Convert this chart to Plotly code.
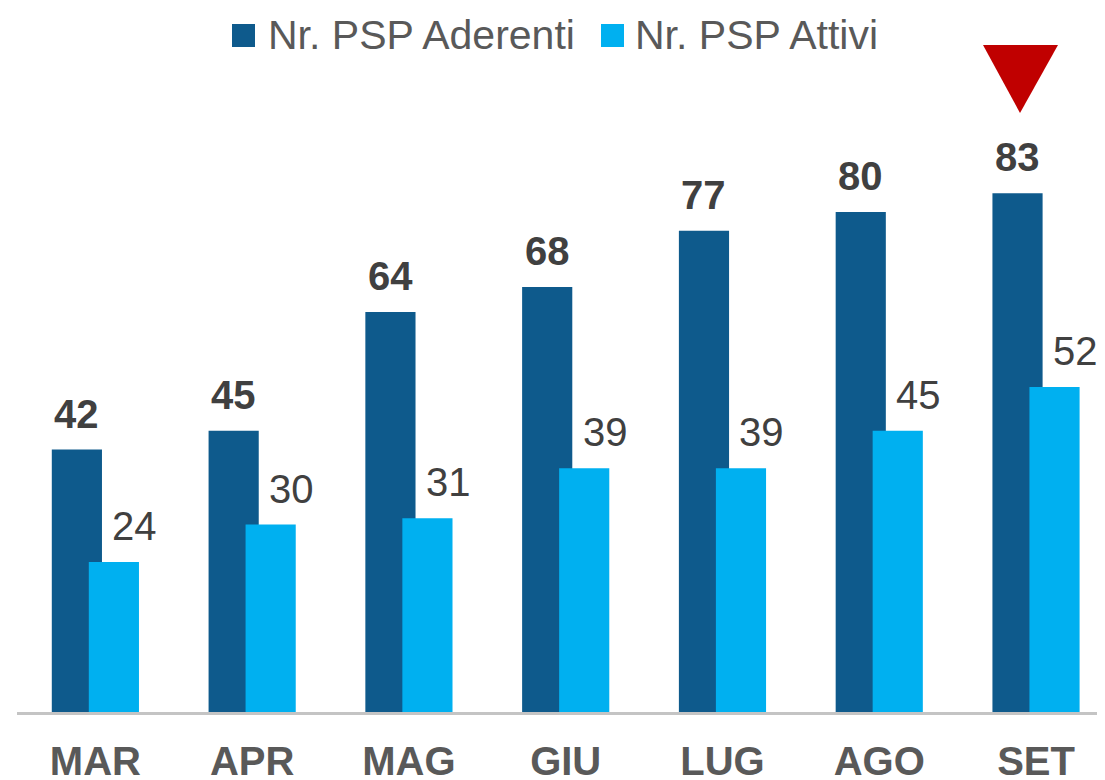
import plotly.graph_objects as go

months = ["MAR", "APR", "MAG", "GIU", "LUG", "AGO", "SET"]
aderenti = [42, 45, 64, 68, 77, 80, 83]
attivi = [24, 30, 31, 39, 39, 45, 52]
series_names = ["Nr. PSP Aderenti", "Nr. PSP Attivi"]

DARK = "#0E5A8C"
LIGHT = "#00B0F0"
FONT = "Liberation Sans, Arial, sans-serif"

# target window geometry (page body has an 8px margin)
OFF = 8
WIN_W, WIN_H = 1105, 780
PLOT_L, PLOT_R, PLOT_T, PLOT_B = 17, 1105, 100, 712

W, H = WIN_W - OFF, WIN_H - OFF
ML = PLOT_L - OFF
MR = W - (PLOT_R - OFF)
MT = PLOT_T - OFF
MB = H - (PLOT_B - OFF)

px_per_unit = 6.25
plot_h = PLOT_B - PLOT_T
plot_w = PLOT_R - PLOT_L
ymax = plot_h / px_per_unit
xr = [-0.5, 6.44]
unit_px = plot_w / (xr[1] - xr[0])

bw = 0.32
dark_c = -0.118
light_c = 0.118


def pxx(px):
    return (px - PLOT_L) / plot_w


def pxy(py):
    return (PLOT_B - py) / plot_h


fig = go.Figure()
fig.add_trace(go.Bar(x=months, y=aderenti, name=series_names[0], marker_color=DARK,
                     marker_line_width=0, width=bw, offset=dark_c - bw / 2))
fig.add_trace(go.Bar(x=months, y=attivi, name=series_names[1], marker_color=LIGHT,
                     marker_line_width=0, width=bw, offset=light_c - bw / 2))

for m, v in zip(months, aderenti):
    fig.add_annotation(x=m, y=v, text=f"<b>{v}</b>", showarrow=False, yanchor="bottom",
                       xshift=dark_c * unit_px, yshift=12,
                       font=dict(family=FONT, size=40, color="#404040"))
for m, v in zip(months, attivi):
    fig.add_annotation(x=m, y=v, text=str(v), showarrow=False, yanchor="bottom",
                       xshift=light_c * unit_px + 21, yshift=12,
                       font=dict(family=FONT, size=40, color="#404040"))

# custom legend (large square swatches)
legend_items = [(series_names[0], DARK, 232, 266), (series_names[1], LIGHT, 601, 633)]
for name, col, sq_x, tx in legend_items:
    fig.add_shape(type="rect", xref="paper", yref="paper",
                  x0=pxx(sq_x), x1=pxx(sq_x + 23), y0=pxy(47), y1=pxy(24),
                  fillcolor=col, line_width=0)
    fig.add_annotation(xref="paper", yref="paper", x=pxx(tx), y=pxy(35),
                       xanchor="left", yanchor="middle", text=name, showarrow=False,
                       font=dict(family=FONT, size=41, color="#595959"))

# red marker triangle above last month
fig.add_shape(type="path", xref="paper", yref="paper",
              path=(f"M {pxx(983)},{pxy(45)} L {pxx(1058)},{pxy(45)} "
                    f"L {pxx(1020)},{pxy(113)} Z"),
              fillcolor="#C00000", line_width=0)

fig.update_layout(
    width=W, height=H,
    margin=dict(l=ML, r=MR, t=MT, b=MB, autoexpand=False),
    paper_bgcolor="white", plot_bgcolor="white",
    barmode="overlay",
    showlegend=False,
    xaxis=dict(range=xr, showgrid=False, showline=True, linecolor="#C4C4C4", linewidth=2.5,
               ticks="", ticklabelstandoff=12,
               tickfont=dict(family=FONT, size=40, color="#595959", weight="bold")),
    yaxis=dict(range=[0, ymax], visible=False),
)

fig.write_html("out.html")
